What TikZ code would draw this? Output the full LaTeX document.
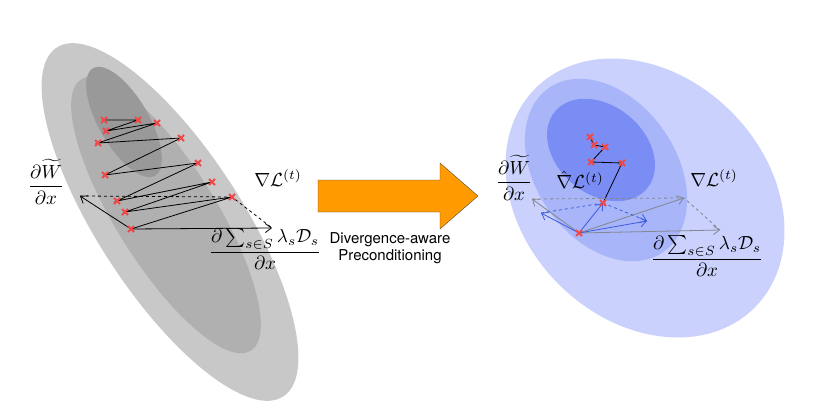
\documentclass[tikz,border=0pt]{standalone}
\usepackage{amsmath,amssymb}
\usepackage{fontspec}
\newfontfamily\labfont{TeX Gyre Heros}
\usetikzlibrary{arrows.meta,calc}
\newcommand\lbx[1]{\scalebox{1.9}{$#1$}}
\definecolor{gA}{HTML}{C8C8C8}\definecolor{gB}{HTML}{B0B0B0}\definecolor{gC}{HTML}{999999}
\definecolor{bA}{HTML}{C9D1FC}\definecolor{bB}{HTML}{A9B5F9}\definecolor{bC}{HTML}{7A8DF5}
\definecolor{xred}{HTML}{F04848}\definecolor{ablue}{HTML}{3B5BE0}\definecolor{agray}{HTML}{808890}
\definecolor{orng}{HTML}{FF9A00}
\begin{document}
\begin{tikzpicture}[x=1pt,y=-1pt,
  mk/.style={xred,line width=2pt},
  lab/.style={inner sep=0pt},
  arr/.style={-{Straight Barb[length=6pt,width=9pt]},thick},
  ]
\useasboundingbox (0,0) rectangle (830,412);
% left ellipses
\fill[gA,rotate around={-57:(170,222)}] (170,222) ellipse [x radius=208,y radius=72];
\fill[gB,rotate around={-58:(166,215)}] (166,215) ellipse [x radius=160,y radius=50];
\fill[gC,rotate around={-60:(124,122)}] (124,122) ellipse [x radius=62,y radius=25];
% right ellipses
\fill[bA,rotate around={-45:(645,198)}] (645,198) ellipse [x radius=155,y radius=122];
\fill[bB,rotate around={-55:(606,170)}] (606,170) ellipse [x radius=100,y radius=70];
\fill[bC,rotate around={-40:(601,150)}] (601,150) ellipse [x radius=60,y radius=44];
% left points
\foreach \n/\x/\y in {p1/104/120,p2/138/120,p3/157/123,p4/106/131,p5/98/143,p6/181/138,p7/105/175,p8/198/163,p9/212/182,p10/117/201,p11/232/197,p12/125/212,p13/131/229}
  \coordinate (\n) at (\x,\y);
\coordinate (lw) at (80,196);
\coordinate (ld) at (272,228);
\draw[thick] (p13)--(p11)--(p12)--(p9)--(p10)--(p8)--(p7)--(p6)--(p5)--(p3)--(p4)--(p2)--(p1);
\draw[thick,dashed] (lw)--(p11)--(ld);
\draw[arr] (p13)--(lw);
\draw[arr] (p13)--(ld);
\foreach \n in {p1,p2,p3,p4,p5,p6,p7,p8,p9,p10,p11,p12,p13}
  \draw[mk] ($(\n)+(-3,-3)$)--($(\n)+(3,3)$) ($(\n)+(-3,3)$)--($(\n)+(3,-3)$);
\node[lab] (lw1) at (46,182) {\lbx{\dfrac{\partial\widetilde{W}}{\partial x}}};
\node[lab] (lg1) at (278,178) {\lbx{\nabla\mathcal{L}^{(t)}}};
\node[lab] (ld1) at (265,249) {\lbx{\dfrac{\partial\sum_{s\in S}\lambda_s\mathcal{D}_s}{\partial x}}};
% big arrow
\draw[fill=orng,draw=black!70,thin] (318,180)--(440,180)--(440,163)--(478,196)--(440,229)--(440,212)--(318,212)--cycle;
\node[font=\labfont\fontsize{15}{17}\selectfont,align=center] (bt) at (390,248) {Divergence-aware\\Preconditioning};
% right points
\foreach \n/\x/\y in {q1/590/137,q2/594/145,q3/605/147,q4/591/162,q5/622/163,q6/603/203,q7/579/233}
  \coordinate (\n) at (\x,\y);
\coordinate (rw) at (532,199);
\coordinate (rg) at (684,198);
\coordinate (rd) at (720,230);
\coordinate (bw) at (541,213);
\coordinate (bd) at (647,221);
\draw[thick] (q1)--(q2)--(q3)--(q4)--(q5)--(q6);
\draw[agray,thick,dashed] (rw)--(rg)--(rd);
\draw[agray,arr] (q7)--(rw);
\draw[agray,arr] (q7)--(rg);
\draw[agray,arr] (q7)--(rd);
\draw[ablue,thick,dashed] (bw)--(q6);
\draw[ablue,arr,dashed] (q6)--(bd);
\draw[ablue,arr] (q7)--(bw);
\draw[ablue,arr] (q7)--(bd);
\draw[ablue,arr] (q7)--(q6);
\foreach \n in {q1,q2,q3,q4,q5,q6,q7}
  \draw[mk] ($(\n)+(-3,-3)$)--($(\n)+(3,3)$) ($(\n)+(-3,3)$)--($(\n)+(3,-3)$);
\node[lab] (rw1) at (514,178) {\lbx{\dfrac{\partial\widetilde{W}}{\partial x}}};
\node[lab] (rh1) at (580,180) {\lbx{\hat{\nabla}\mathcal{L}^{(t)}}};
\node[lab] (rg1) at (714,178) {\lbx{\nabla\mathcal{L}^{(t)}}};
\node[lab] (rd1) at (707,256) {\lbx{\dfrac{\partial\sum_{s\in S}\lambda_s\mathcal{D}_s}{\partial x}}};
\end{tikzpicture}
\end{document}
